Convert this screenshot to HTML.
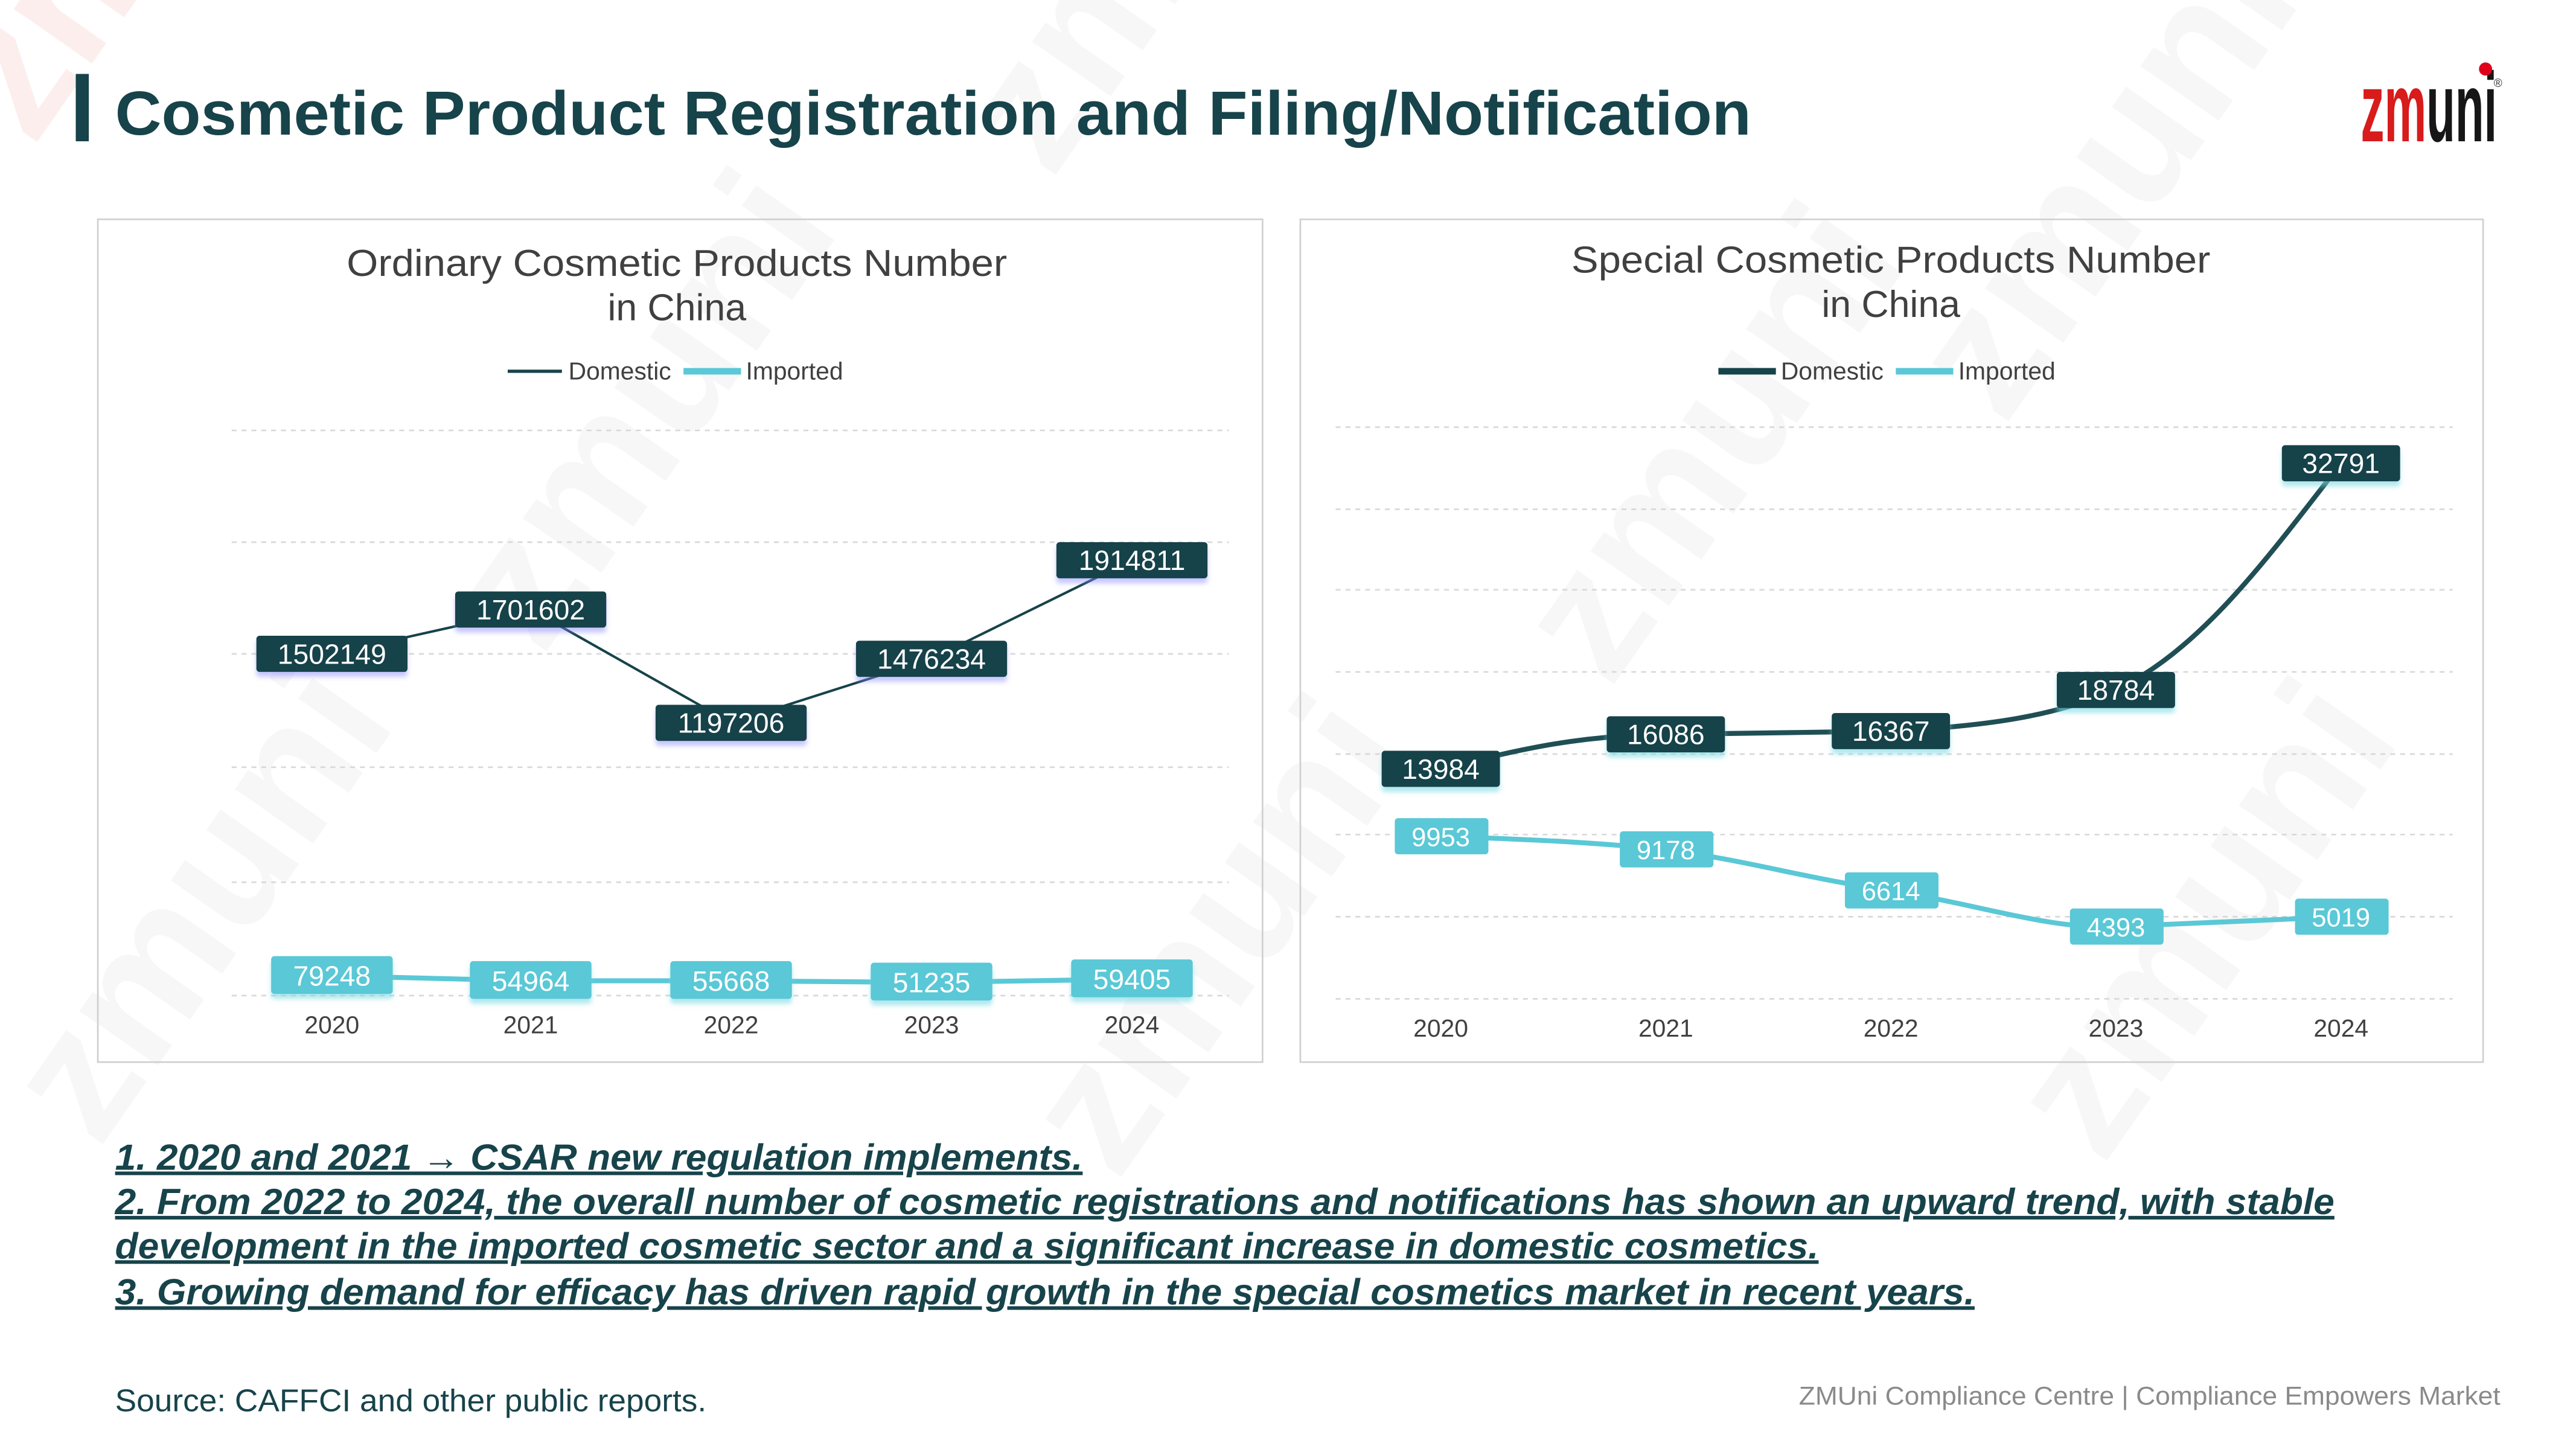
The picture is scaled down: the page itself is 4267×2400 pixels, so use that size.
<!DOCTYPE html>
<html><head><meta charset="utf-8"><style>
html,body{margin:0;padding:0;background:#fff;width:4267px;height:2400px;overflow:hidden}
svg{display:block}
text{font-family:"Liberation Sans",sans-serif}
</style></head><body>
<svg width="4267" height="2400" viewBox="0 0 1568 882" xmlns="http://www.w3.org/2000/svg">
<defs>
<filter id="sh" x="-20%" y="-20%" width="140%" height="160%"><feDropShadow dx="0" dy="3" stdDeviation="1.5" flood-color="#7ad9e3" flood-opacity="0.6"/></filter>
<filter id="shb" x="-20%" y="-20%" width="140%" height="160%"><feDropShadow dx="0" dy="3" stdDeviation="1.5" flood-color="#8080ff" flood-opacity="0.45"/></filter>
</defs>
<rect width="1568" height="882" fill="#fff"/>
<g opacity="0.08" font-family="Liberation Serif" font-weight="bold" font-size="110">
<text x="20" y="90" transform="rotate(-55 20 90)" fill="#e03030">zmuni</text>
<text x="640" y="110" transform="rotate(-55 640 110)" fill="#999">zmuni</text>
<text x="1220" y="260" transform="rotate(-55 1220 260)" fill="#999">zmuni</text>
<text x="330" y="400" transform="rotate(-55 330 400)" fill="#999">zmuni</text>
<text x="980" y="420" transform="rotate(-55 980 420)" fill="#999">zmuni</text>
<text x="60" y="700" transform="rotate(-55 60 700)" fill="#999">zmuni</text>
<text x="680" y="720" transform="rotate(-55 680 720)" fill="#999">zmuni</text>
<text x="1280" y="710" transform="rotate(-55 1280 710)" fill="#999">zmuni</text>
</g>
<!-- header -->
<rect x="46" y="45" width="8" height="41" fill="#17434a"/>
<text x="70" y="82" font-size="38" font-weight="bold" fill="#17434a" textLength="996" lengthAdjust="spacingAndGlyphs">Cosmetic Product Registration and Filing/Notification</text>
<g font-family="Liberation Serif" font-weight="bold">
<text x="1437" y="86" font-size="60" fill="#d81b1b" textLength="40" lengthAdjust="spacingAndGlyphs">zm</text>
<text x="1477" y="86" font-size="60" fill="#161616" textLength="43" lengthAdjust="spacingAndGlyphs">uni</text>
</g>
<circle cx="1513" cy="42" r="4" fill="#e0001b"/>
<text x="1518" y="53" font-size="7" fill="#333">®</text>

<!-- left chart -->
<rect x="59.5" y="133.5" width="709" height="513" fill="none" stroke="#d0d0d0"/>
<text x="412" y="168" font-size="23" fill="#404040" text-anchor="middle" textLength="402" lengthAdjust="spacingAndGlyphs">Ordinary Cosmetic Products Number</text>
<text x="412" y="195" font-size="23" fill="#404040" text-anchor="middle">in China</text>
<line x1="309" y1="226" x2="342" y2="226" stroke="#17434a" stroke-width="2"/>
<text x="346" y="231" font-size="15" fill="#404040">Domestic</text>
<line x1="416" y1="226" x2="451" y2="226" stroke="#5ac8d6" stroke-width="4"/>
<text x="454" y="231" font-size="15" fill="#404040">Imported</text>
<g stroke="#d9d9d9" stroke-dasharray="3,3" stroke-width="1">
<line x1="141" y1="262" x2="748" y2="262"/><line x1="141" y1="330" x2="748" y2="330"/>
<line x1="141" y1="398" x2="748" y2="398"/><line x1="141" y1="467" x2="748" y2="467"/>
<line x1="141" y1="537" x2="748" y2="537"/><line x1="141" y1="606" x2="748" y2="606"/>
</g>
<polyline points="202,398 323,371 445,440 567,401 689,341" fill="none" stroke="#17434a" stroke-width="1.5"/>
<polyline points="202,594 323,597 445,597 567,598 689,596" fill="none" stroke="#5ac8d6" stroke-width="3"/>
<g font-size="17" fill="#fff" text-anchor="middle">
<g fill="#17434a" filter="url(#shb)">
<rect x="156" y="387" width="92" height="22" rx="2"/><rect x="277" y="360" width="92" height="22" rx="2"/>
<rect x="399" y="429" width="92" height="22" rx="2"/><rect x="521" y="390" width="92" height="22" rx="2"/>
<rect x="643" y="330" width="92" height="22" rx="2"/></g>
<text x="202" y="404">1502149</text><text x="323" y="377">1701602</text><text x="445" y="446">1197206</text><text x="567" y="407">1476234</text><text x="689" y="347">1914811</text>
<g fill="#5ac8d6" filter="url(#sh)">
<rect x="165" y="582" width="74" height="23" rx="2"/><rect x="286" y="585" width="74" height="23" rx="2"/>
<rect x="408" y="585" width="74" height="23" rx="2"/><rect x="530" y="586" width="74" height="23" rx="2"/>
<rect x="652" y="584" width="74" height="23" rx="2"/></g>
<text x="202" y="600">79248</text><text x="323" y="603">54964</text><text x="445" y="603">55668</text><text x="567" y="604">51235</text><text x="689" y="602">59405</text>
</g>
<g font-size="15" fill="#404040" text-anchor="middle">
<text x="202" y="629">2020</text><text x="323" y="629">2021</text><text x="445" y="629">2022</text><text x="567" y="629">2023</text><text x="689" y="629">2024</text>
</g>

<!-- right chart -->
<rect x="791.5" y="133.5" width="720" height="513" fill="none" stroke="#d0d0d0"/>
<text x="1151" y="166" font-size="23" fill="#404040" text-anchor="middle" textLength="389" lengthAdjust="spacingAndGlyphs">Special Cosmetic Products Number</text>
<text x="1151" y="193" font-size="23" fill="#404040" text-anchor="middle">in China</text>
<line x1="1046" y1="226" x2="1081" y2="226" stroke="#17434a" stroke-width="4"/>
<text x="1084" y="231" font-size="15" fill="#404040">Domestic</text>
<line x1="1154" y1="226" x2="1189" y2="226" stroke="#5ac8d6" stroke-width="4"/>
<text x="1192" y="231" font-size="15" fill="#404040">Imported</text>
<g stroke="#d9d9d9" stroke-dasharray="3,3" stroke-width="1">
<line x1="813" y1="260" x2="1493" y2="260"/><line x1="813" y1="310" x2="1493" y2="310"/>
<line x1="813" y1="359" x2="1493" y2="359"/><line x1="813" y1="409" x2="1493" y2="409"/>
<line x1="813" y1="459" x2="1493" y2="459"/><line x1="813" y1="508" x2="1493" y2="508"/>
<line x1="813" y1="558" x2="1493" y2="558"/><line x1="813" y1="608" x2="1493" y2="608"/>
</g>
<path d="M877,468 C930,455 960,448 1014,447 C1070,446 1100,446 1151,445 C1210,442 1250,436 1288,420 C1340,395 1380,340 1425,282" fill="none" stroke="#1f4f55" stroke-width="3"/>
<path d="M877,509 C930,511 960,512 1014,517 C1070,525 1100,535 1151,542 C1210,552 1250,566 1288,564 C1340,562 1380,560 1425,558" fill="none" stroke="#5ac8d6" stroke-width="3"/>
<g font-size="17" fill="#fff" text-anchor="middle">
<g fill="#17434a" filter="url(#sh)">
<rect x="841" y="457" width="72" height="22" rx="2"/><rect x="978" y="436" width="72" height="22" rx="2"/>
<rect x="1115" y="434" width="72" height="22" rx="2"/><rect x="1252" y="409" width="72" height="22" rx="2"/>
<rect x="1389" y="271" width="72" height="22" rx="2"/></g>
<text x="877" y="474">13984</text><text x="1014" y="453">16086</text><text x="1151" y="451">16367</text><text x="1288" y="426">18784</text><text x="1425" y="288">32791</text>
<g fill="#5ac8d6">
<rect x="849" y="498" width="57" height="22" rx="2"/><rect x="986" y="506" width="57" height="22" rx="2"/>
<rect x="1123" y="531" width="57" height="22" rx="2"/><rect x="1260" y="553" width="57" height="22" rx="2"/>
<rect x="1397" y="547" width="57" height="22" rx="2"/></g>
<g font-size="16"><text x="877" y="515">9953</text><text x="1014" y="523">9178</text><text x="1151" y="548">6614</text><text x="1288" y="570">4393</text><text x="1425" y="564">5019</text></g>
</g>
<g font-size="15" fill="#404040" text-anchor="middle">
<text x="877" y="631">2020</text><text x="1014" y="631">2021</text><text x="1151" y="631">2022</text><text x="1288" y="631">2023</text><text x="1425" y="631">2024</text>
</g>

<!-- notes -->
<g font-size="22" font-weight="bold" font-style="italic" fill="#17434a" text-decoration="underline" lengthAdjust="spacingAndGlyphs">
<text x="70" y="712" textLength="589" lengthAdjust="spacingAndGlyphs">1. 2020 and 2021 → CSAR new regulation implements.</text>
<text x="70" y="739" textLength="1351" lengthAdjust="spacingAndGlyphs">2. From 2022 to 2024, the overall number of cosmetic registrations and notifications has shown an upward trend, with stable</text>
<text x="70" y="766" textLength="1037" lengthAdjust="spacingAndGlyphs">development in the imported cosmetic sector and a significant increase in domestic cosmetics.</text>
<text x="70" y="794" textLength="1132" lengthAdjust="spacingAndGlyphs">3. Growing demand for efficacy has driven rapid growth in the special cosmetics market in recent years.</text>
</g>
<text x="70" y="859" font-size="19" fill="#17434a" textLength="360" lengthAdjust="spacingAndGlyphs">Source: CAFFCI and other public reports.</text>
<text x="1095" y="855" font-size="15.5" fill="#8a8a8a" textLength="427" lengthAdjust="spacingAndGlyphs">ZMUni Compliance Centre | Compliance Empowers Market</text>
</svg>
</body></html>
